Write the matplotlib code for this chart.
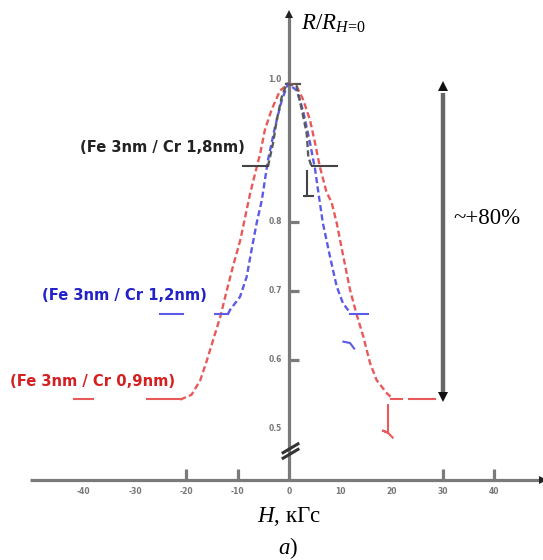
import numpy as np
import matplotlib.pyplot as plt

plt.rcParams['mathtext.fontset'] = 'custom'
plt.rcParams['mathtext.rm'] = 'Liberation Serif'
plt.rcParams['mathtext.it'] = 'Liberation Serif:italic'

# R/R(H=0) versus H (kGs) for three Fe/Cr superlattices
h_red = [-21.2, -19.0, -17.3, -16.0, -14.6, -13.4, -12.3, -11.0, -9.5, -7.6, -6.6, -5.6, -4.7,
         -3.4, -1.75, 0, 1.5, 2.8, 4.1, 5.1, 6.0, 7.3, 8.3, 9.3, 10.6, 11.9, 13.2, 14.5, 15.8,
         17.1, 19.1, 20.3]
r_red = [0.542, 0.549, 0.570, 0.599, 0.633, 0.662, 0.695, 0.733, 0.773, 0.840, 0.870, 0.899, 0.933,
         0.962, 0.990, 1.0, 0.996, 0.976, 0.947, 0.913, 0.880, 0.843, 0.828, 0.798, 0.749, 0.701,
         0.665, 0.633, 0.595, 0.570, 0.551, 0.543]

h_blue = [-11.9, -11.5, -9.55, -8.25, -7.3, -6.3, -5.3, -4.1, -2.7, -1.4, -0.2, 1.5, 2.7, 4.1,
          5.1, 5.65, 6.6, 8.0, 9.3, 10.5, 11.9]
r_blue = [0.666, 0.672, 0.691, 0.720, 0.759, 0.798, 0.831, 0.889, 0.938, 0.976, 1.0, 0.990, 0.962,
          0.914, 0.875, 0.846, 0.798, 0.749, 0.706, 0.682, 0.668]

h_gray = [-4.1, -3.1, -2.4, -1.4, -0.45, 1.5, 2.5, 3.45, 3.76, 4.4]
r_gray = [0.880, 0.914, 0.947, 0.981, 1.0, 0.996, 0.962, 0.928, 0.894, 0.880]

# saturation levels and the flat pieces drawn at them
red_sat = 0.543
red_flat = [(-41.9, -38.2), (-27.7, -21.2), (19.9, 22.0), (23.4, 28.5)]
blue_sat = 0.666
blue_flat = [(-25.1, -20.6), (-14.4, -11.9), (11.9, 15.4)]
gray_sat = 0.880
gray_flat = [(-9.0, -4.1), (4.4, 9.3)]

# small stray strokes
red_hook_h = [19.3, 19.3, 18.3, 19.3, 20.2]
red_hook_r = [0.534, 0.494, 0.497, 0.494, 0.487]
blue_hook_h = [10.6, 11.9, 12.7]
blue_hook_r = [0.626, 0.624, 0.616]
gray_hook_h = [3.45, 3.45, 3.0, 4.6]
gray_hook_r = [0.873, 0.837, 0.837, 0.837]

x_ticks = [-40, -30, -20, -10, 0, 10, 20, 30, 40]
x_marks = [-20, -10, 30, 40]
y_ticks = [1.0, 0.8, 0.7, 0.6, 0.5]
y_marks = [0.8, 0.7, 0.6]
r_axis = 0.4255
arrow_h = 30
arrow_top = 0.997

labels = ['(Fe 3nm / Cr 1,8nm)', '(Fe 3nm / Cr 1,2nm)', '(Fe 3nm / Cr 0,9nm)']

W, H = 543, 560
fig = plt.figure(figsize=(W / 100, H / 100), dpi=100)
ax = fig.add_axes([0, 0, 1, 1])
ax.set_xlim(-289 / 5.13, 254 / 5.13)
ax.set_ylim(0.5 - 131.4 / 690, 0.5 + 428.6 / 690)
ax.axis('off')


def px(x, y):
    return x / W, 1 - y / H


c_red, c_blue, c_gray = '#e85a5a', '#5b5be6', '#5a5a5a'
ax_col = '#7a7a7a'

# axes with arrows
ax.plot([-50.5, 49.5], [r_axis, r_axis], color=ax_col, lw=2.3, solid_capstyle='butt')
ax.plot([0, 0], [r_axis, 1.10], color=ax_col, lw=2.3, solid_capstyle='butt')
ax.plot([49.6], [r_axis], marker='>', ms=6, color='#222', mew=0)
ax.plot([0], [1.101], marker='^', ms=6, color='#222', mew=0)
# axis break
for dr in (-0.004, 0.004):
    ax.plot([-1.4, 2.0], [0.460 + dr, 0.475 + dr], color='#333', lw=2.2, solid_capstyle='butt')

for t in x_marks:
    ax.plot([t, t], [r_axis, r_axis + 0.016], color=ax_col, lw=2.3, solid_capstyle='butt')
for t in y_marks:
    ax.plot([0, 2.0], [t, t], color=ax_col, lw=2.3, solid_capstyle='butt')
ax.plot([-0.6, 2.2], [1.0, 1.0], color='#555', lw=1.6)

for t in x_ticks:
    ax.text(t, r_axis - 0.016, f'{t}', ha='center', va='center', fontsize=5.5,
            fontweight='bold', color='#777')
for t in y_ticks:
    ax.text(-1.4, t + (0.006 if t == 1.0 else 0), f'{t:.1f}', ha='right', va='center',
            fontsize=5.5, fontweight='bold', color='#777')

# curves
ax.plot(h_red, r_red, color=c_red, lw=1.7, dashes=(2.6, 1.4))
ax.plot(h_blue, r_blue, color=c_blue, lw=1.7, dashes=(2.6, 1.4))
ax.plot(h_gray, r_gray, color=c_gray, lw=1.7, dashes=(2.6, 1.4))
for a, b in red_flat:
    ax.plot([a, b], [red_sat, red_sat], color=c_red, lw=1.5)
for a, b in blue_flat:
    ax.plot([a, b], [blue_sat, blue_sat], color=c_blue, lw=1.5)
for a, b in gray_flat:
    ax.plot([a, b], [gray_sat, gray_sat], color='#444', lw=1.5)
ax.plot(red_hook_h, red_hook_r, color=c_red, lw=1.5)
ax.plot(blue_hook_h, blue_hook_r, color=c_blue, lw=1.5)
ax.plot(gray_hook_h, gray_hook_r, color='#444', lw=1.5)

# +80% double arrow
ax.plot([arrow_h, arrow_h], [red_sat + 0.01, arrow_top - 0.01], color='#666', lw=3.2,
        solid_capstyle='butt')
ax.plot([arrow_h], [arrow_top], marker='^', ms=7, color='#111', mew=0)
ax.plot([arrow_h], [red_sat + 0.003], marker='v', ms=7, color='#111', mew=0)

serif = 'Liberation Serif'
fig.text(*px(453, 218), '~+80%', fontsize=16.5, family=serif, ha='left', va='center')
fig.text(*px(301, 23), r'$R/R_{H\!=\!0}$', fontsize=16.5, ha='left', va='center')
fig.text(*px(289, 516), r'$H$, кГс', fontsize=16.5, family=serif, ha='center', va='center')
fig.text(*px(288, 548), r'$a$)', fontsize=16.5, family=serif, ha='center', va='center')

fig.text(*px(80, 148), labels[0], fontsize=10.6, fontweight='bold', color='#222',
         ha='left', va='center')
fig.text(*px(42, 295), labels[1], fontsize=10.6, fontweight='bold', color='#2222c8',
         ha='left', va='center')
fig.text(*px(10, 381), labels[2], fontsize=10.6, fontweight='bold', color='#d42020',
         ha='left', va='center')

fig.savefig('out.png', dpi=100)
